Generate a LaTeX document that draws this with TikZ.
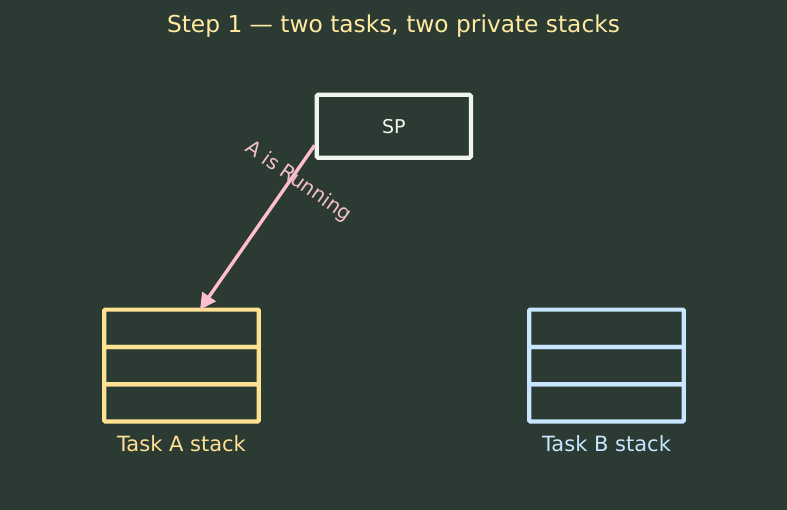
\documentclass[tikz,border=0pt]{standalone}
\usepackage{fontspec}
\setmainfont{DejaVu Sans}
\usetikzlibrary{positioning,arrows.meta}

\definecolor{bgcol}{RGB}{43,58,51}
\definecolor{titlecol}{RGB}{255,234,160}
\definecolor{spcol}{RGB}{240,245,238}
\definecolor{acol}{RGB}{255,226,145}
\definecolor{bcol}{RGB}{200,230,255}
\definecolor{pinkcol}{RGB}{255,190,205}
\definecolor{pinktext}{RGB}{242,192,202}

\newcommand*{\cellw}{154.4pt}
\newcommand*{\cellh}{37.3pt}

\begin{document}
\begin{tikzpicture}
[
	x=1pt, y=-1pt,
	stackcell/.style={rectangle,draw,line width=4.2pt,rounded corners=1pt,minimum width=\cellw,minimum height=\cellh,inner sep=0pt,outer sep=0pt},
	spbox/.style={rectangle,draw=spcol,line width=4.2pt,rounded corners=1.5pt,minimum width=154.3pt,minimum height=63pt,inner sep=0pt,text=spcol,font=\fontsize{19}{22}\selectfont},
	stacklabel/.style={anchor=base,font=\fontsize{21}{24}\selectfont}
]

	% background
	\fill[bgcol] (0,0) rectangle (787,510);
	\useasboundingbox (0,0) rectangle (787,510);

	% title
	\node[anchor=base,text=titlecol,font=\fontsize{23.3}{27}\selectfont] (title) at (393.5,33) {Step 1 — two tasks, two private stacks};

	% stack pointer
	\node[spbox] (sp) at (393.8,126.2) {SP};

	% task A stack
	\node[stackcell,draw=acol] (a1) at (181.5,328.3) {};
	\node[stackcell,draw=acol,below=0pt of a1] (a2) {};
	\node[stackcell,draw=acol,below=0pt of a2] (a3) {};
	\node[stacklabel,text=acol] (alabel) at (181.5,451) {Task A stack};

	% task B stack
	\node[stackcell,draw=bcol] (b1) at (606.5,328.3) {};
	\node[stackcell,draw=bcol,below=0pt of b1] (b2) {};
	\node[stackcell,draw=bcol,below=0pt of b2] (b3) {};
	\node[stacklabel,text=bcol] (blabel) at (606.5,451) {Task B stack};

	% SP -> task A
	\coordinate (spout) at ([yshift=14.4pt]sp.south west);
	\coordinate (ain) at ([xshift=18.5pt]a1.north);
	\draw[pinkcol,line width=3.4pt,-{Triangle[length=16pt,width=16pt]}] (spout) -- (ain);
	\node[text=pinktext,rotate=-35,font=\fontsize{20}{24}\selectfont] (runlabel) at (298.3,181.7) {A is Running};

\end{tikzpicture}
\end{document}
